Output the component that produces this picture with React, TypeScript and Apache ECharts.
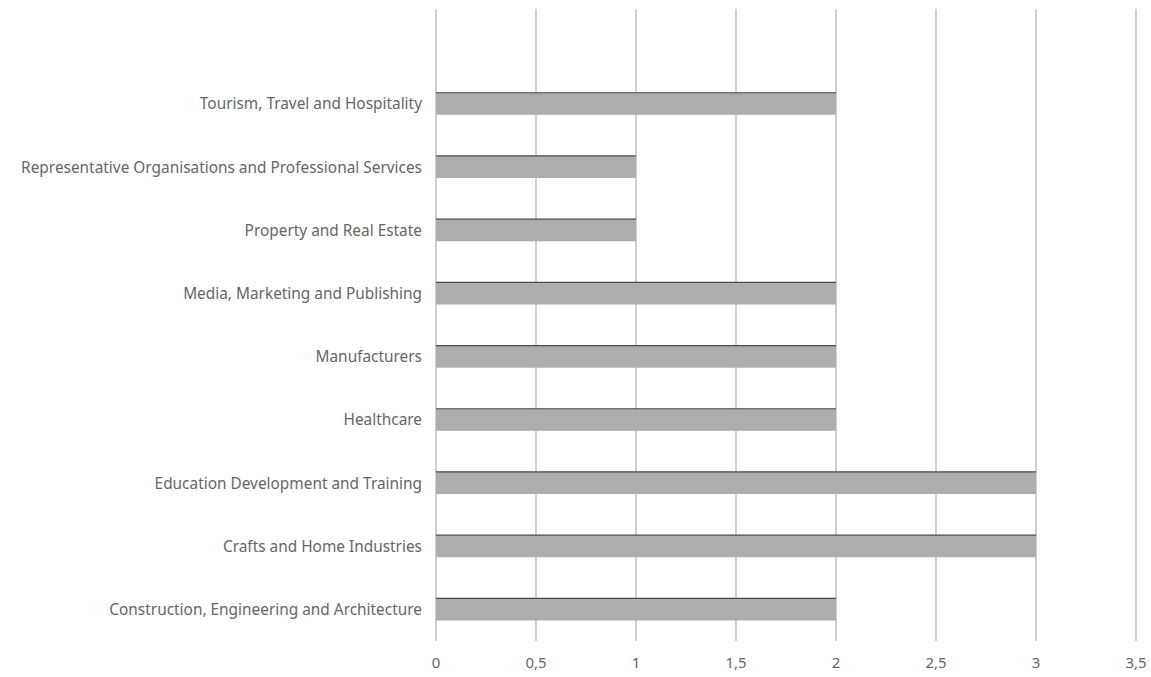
import React, { useEffect, useRef } from "react";
import * as echarts from "echarts";

const categories = [
  "Construction, Engineering and Architecture",
  "Crafts and Home Industries",
  "Education Development and Training",
  "Healthcare",
  "Manufacturers",
  "Media, Marketing and Publishing",
  "Property and Real Estate",
  "Representative Organisations and Professional Services",
  "Tourism, Travel and Hospitality",
  "",
];
const values: (number | null)[] = [2, 3, 3, 2, 2, 2, 1, 1, 2, null];
const xTicks = { min: 0, max: 3.5, interval: 0.5 };

export default function App() {
  const ref = useRef<HTMLDivElement>(null);
  useEffect(() => {
    document.body.style.margin = "0";
    const chart = echarts.init(ref.current!, null, { renderer: "svg" });
    const data = values
      .map((v, i) => (v == null ? null : [v, i]))
      .filter((d) => d !== null);
    chart.setOption({
      animation: false,
      grid: { left: 436, right: 15, top: 9, bottom: 36, containLabel: false },
      xAxis: {
        type: "value",
        min: xTicks.min,
        max: xTicks.max,
        interval: xTicks.interval,
        axisLine: { show: false },
        axisTick: { show: false },
        splitLine: { show: true, lineStyle: { color: "#c4c4c4", width: 1.6 } },
        axisLabel: {
          color: "#666666",
          fontSize: 15,
          fontFamily: "Noto Sans",
          margin: 13,
          formatter: (v: number) => String(v).replace(".", ","),
        },
      },
      yAxis: {
        type: "category",
        data: categories,
        axisLine: { show: false },
        axisTick: { show: false },
        axisLabel: {
          color: "#666666",
          fontSize: 15.4,
          fontFamily: "Noto Sans",
          margin: 14,
        },
      },
      series: [
        {
          type: "custom",
          encode: { x: 0, y: 1 },
          data,
          renderItem: (params: any, api: any) => {
            const v = api.value(0);
            const idx = api.value(1);
            const start = api.coord([0, idx]);
            const end = api.coord([v, idx]);
            const band = api.size([0, 1])[1];
            const h = band * 0.35;
            const y0 = start[1] - h / 2;
            return {
              type: "group",
              children: [
                {
                  type: "rect",
                  shape: { x: start[0], y: y0, width: end[0] - start[0], height: h },
                  style: { fill: "#adadad" },
                },
                {
                  type: "line",
                  shape: { x1: start[0], y1: y0, x2: end[0], y2: y0 },
                  style: { stroke: "#4a4a4a", lineWidth: 1.2 },
                },
              ],
            };
          },
        },
      ],
    });
    return () => chart.dispose();
  }, []);
  return <div ref={ref} style={{ width: 1151, height: 677 }} />;
}
